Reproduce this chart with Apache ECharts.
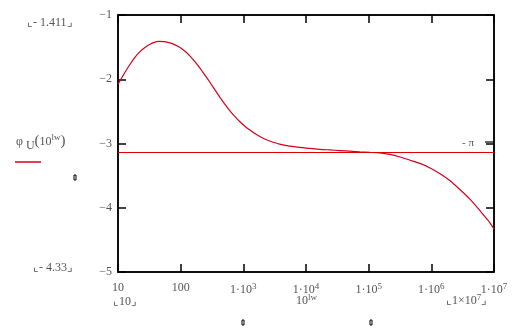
<!DOCTYPE html>
<html>
<head>
<meta charset="utf-8">
<script src="https://cdn.jsdelivr.net/npm/echarts@6/dist/echarts.min.js"></script>
<style>
html,body{margin:0;padding:0;background:#fff;}
#c{width:514px;height:329px;}
</style>
</head>
<body>
<div id="c"></div>
<script>
// exponent lw (frequency = 10^lw) and phase values
var lwValues = [1.00,1.10,1.19,1.27,1.35,1.43,1.51,1.58,1.65,1.74,1.83,1.91,1.99,2.07,2.15,2.23,2.31,2.39,2.47,2.55,2.63,2.71,2.79,2.87,2.95,3.03,3.11,3.19,3.27,3.35,3.43,3.58,3.74,3.90,4.06,4.22,4.38,4.54,4.70,4.86,5.02,5.18,5.34,5.50,5.66,5.82,5.98,6.14,6.30,6.46,6.62,6.78,6.90,7.00];
var phiValues = [-2.08,-1.91,-1.77,-1.66,-1.57,-1.505,-1.455,-1.425,-1.411,-1.415,-1.435,-1.465,-1.505,-1.565,-1.64,-1.73,-1.83,-1.94,-2.05,-2.17,-2.285,-2.395,-2.495,-2.585,-2.665,-2.735,-2.795,-2.85,-2.895,-2.935,-2.965,-3.01,-3.04,-3.06,-3.075,-3.09,-3.10,-3.11,-3.12,-3.13,-3.138,-3.145,-3.17,-3.21,-3.26,-3.31,-3.38,-3.47,-3.58,-3.72,-3.87,-4.05,-4.19,-4.33];
var refLine = -Math.PI;
var xTickLabels = {10:'10',100:'100',1000:'1·10{s|3}',10000:'1·10{s|4}',100000:'1·10{s|5}',1000000:'1·10{s|6}',10000000:'1·10{s|7}'};
var yTickLabels = {'-1':'−1','-2':'−2','-3':'−3','-4':'−4','-5':'−5'};
var yMaxLabel = '⌞- 1.411⌟';
var yMinLabel = '⌞- 4.33⌟';
var xMinLabel = '⌞10⌟';
var xMaxLabel = '⌞1×10{s|7}⌟';
var xName = '10{s|lw}';
var refLabel = '- π';

var seriesData = lwValues.map(function(lw, i){ return [Math.pow(10, lw), phiValues[i]]; });

var FONT = '"Liberation Serif", "DejaVu Serif", serif';
var TXT = '#555';
var chart = echarts.init(document.getElementById('c'), null, {renderer:'canvas'});
var axisLineStyle = {color:'#000', width:1.5};
chart.setOption({
  animation:false,
  backgroundColor:'#fff',
  grid:{left:118, right:20, top:15, bottom:57, show:true, borderColor:'#000', borderWidth:1.5},
  xAxis:[{
    type:'log', logBase:10, min:10, max:10000000, position:'bottom',
    axisLine:{show:true, lineStyle:axisLineStyle},
    axisTick:{show:true, inside:true, length:8, lineStyle:{color:'#000', width:1.5}},
    minorTick:{show:false}, splitLine:{show:false},
    axisLabel:{show:true, margin:10, color:TXT, fontFamily:FONT, fontSize:12,
      formatter:function(v){ return xTickLabels[Math.round(v)] || ''; },
      rich:{s:{fontSize:9, verticalAlign:'top', color:TXT, fontFamily:FONT, padding:[0,0,6,0]}}}
  },{
    type:'log', logBase:10, min:10, max:10000000, position:'top',
    axisLine:{show:true, lineStyle:axisLineStyle},
    axisTick:{show:true, inside:true, length:8, lineStyle:{color:'#000', width:1.5}},
    axisLabel:{show:false}, splitLine:{show:false}
  }],
  yAxis:[{
    type:'value', min:-5, max:-1, interval:1, position:'left',
    axisLine:{show:true, lineStyle:axisLineStyle},
    axisTick:{show:true, inside:true, length:8, lineStyle:{color:'#000', width:1.5}},
    splitLine:{show:false},
    axisLabel:{show:true, margin:6, color:TXT, fontFamily:FONT, fontSize:12,
      formatter:function(v){ return yTickLabels[String(v)] || ''; }}
  },{
    type:'value', min:-5, max:-1, interval:1, position:'right',
    axisLine:{show:true, lineStyle:axisLineStyle},
    axisTick:{show:true, inside:true, length:8, lineStyle:{color:'#000', width:1.5}},
    splitLine:{show:false}, axisLabel:{show:false}
  }],
  series:[{
    type:'line', data:seriesData, smooth:0.25, symbol:'none',
    lineStyle:{color:'#d4001a', width:1.2},
    markLine:{
      silent:true, symbol:['none','none'],
      lineStyle:{color:'#e00000', width:1.2, type:'solid'},
      label:{show:true, position:'insideEndTop', formatter:refLabel, color:TXT, fontFamily:FONT, fontSize:11, distance:[20,4]},
      data:[{yAxis:refLine}]
    }
  }],
  graphic:[
    {type:'text', left:27, top:17, style:{text:yMaxLabel, fill:TXT, font:'12px '+FONT}},
    {type:'text', left:33, top:262, style:{text:yMinLabel, fill:TXT, font:'12px '+FONT}},
    {type:'text', left:113, top:296, style:{text:xMinLabel, fill:TXT, font:'12px '+FONT}},
    {type:'text', left:296, top:293, style:{text:xName, fill:TXT, font:'12px '+FONT,
      rich:{s:{fontSize:9, verticalAlign:'top', fill:TXT, fontFamily:FONT, padding:[0,0,6,0]}}}},
    {type:'text', left:446, top:293, style:{text:xMaxLabel, fill:TXT, font:'12px '+FONT,
      rich:{s:{fontSize:9, verticalAlign:'top', fill:TXT, fontFamily:FONT, padding:[0,0,6,0]}}}},
    {type:'text', left:16, top:133, style:{text:'φ {u|U}{p|(}10{s|lw}{p|)}', fill:TXT, font:'12px '+FONT,
      rich:{u:{fontSize:12, fill:TXT, fontFamily:FONT, padding:[8,0,0,0]},
            p:{fontSize:15, fill:TXT, fontFamily:FONT},
            s:{fontSize:9, fill:TXT, fontFamily:FONT, padding:[0,0,8,0]}}}},
    {type:'line', shape:{x1:15, y1:162, x2:41, y2:162}, style:{stroke:'#d4001a', lineWidth:1.5}},
    {type:'line', shape:{x1:485, y1:142, x2:494, y2:142}, style:{stroke:'#000', lineWidth:1.2}},
    {type:'rect', shape:{x:74, y:175, width:2, height:5}, style:{fill:'#fff', stroke:'#000', lineWidth:1}},
    {type:'rect', shape:{x:242, y:320, width:2, height:5}, style:{fill:'#fff', stroke:'#000', lineWidth:1}},
    {type:'rect', shape:{x:370, y:320, width:2, height:5}, style:{fill:'#fff', stroke:'#000', lineWidth:1}}
  ]
});
</script>
</body>
</html>
